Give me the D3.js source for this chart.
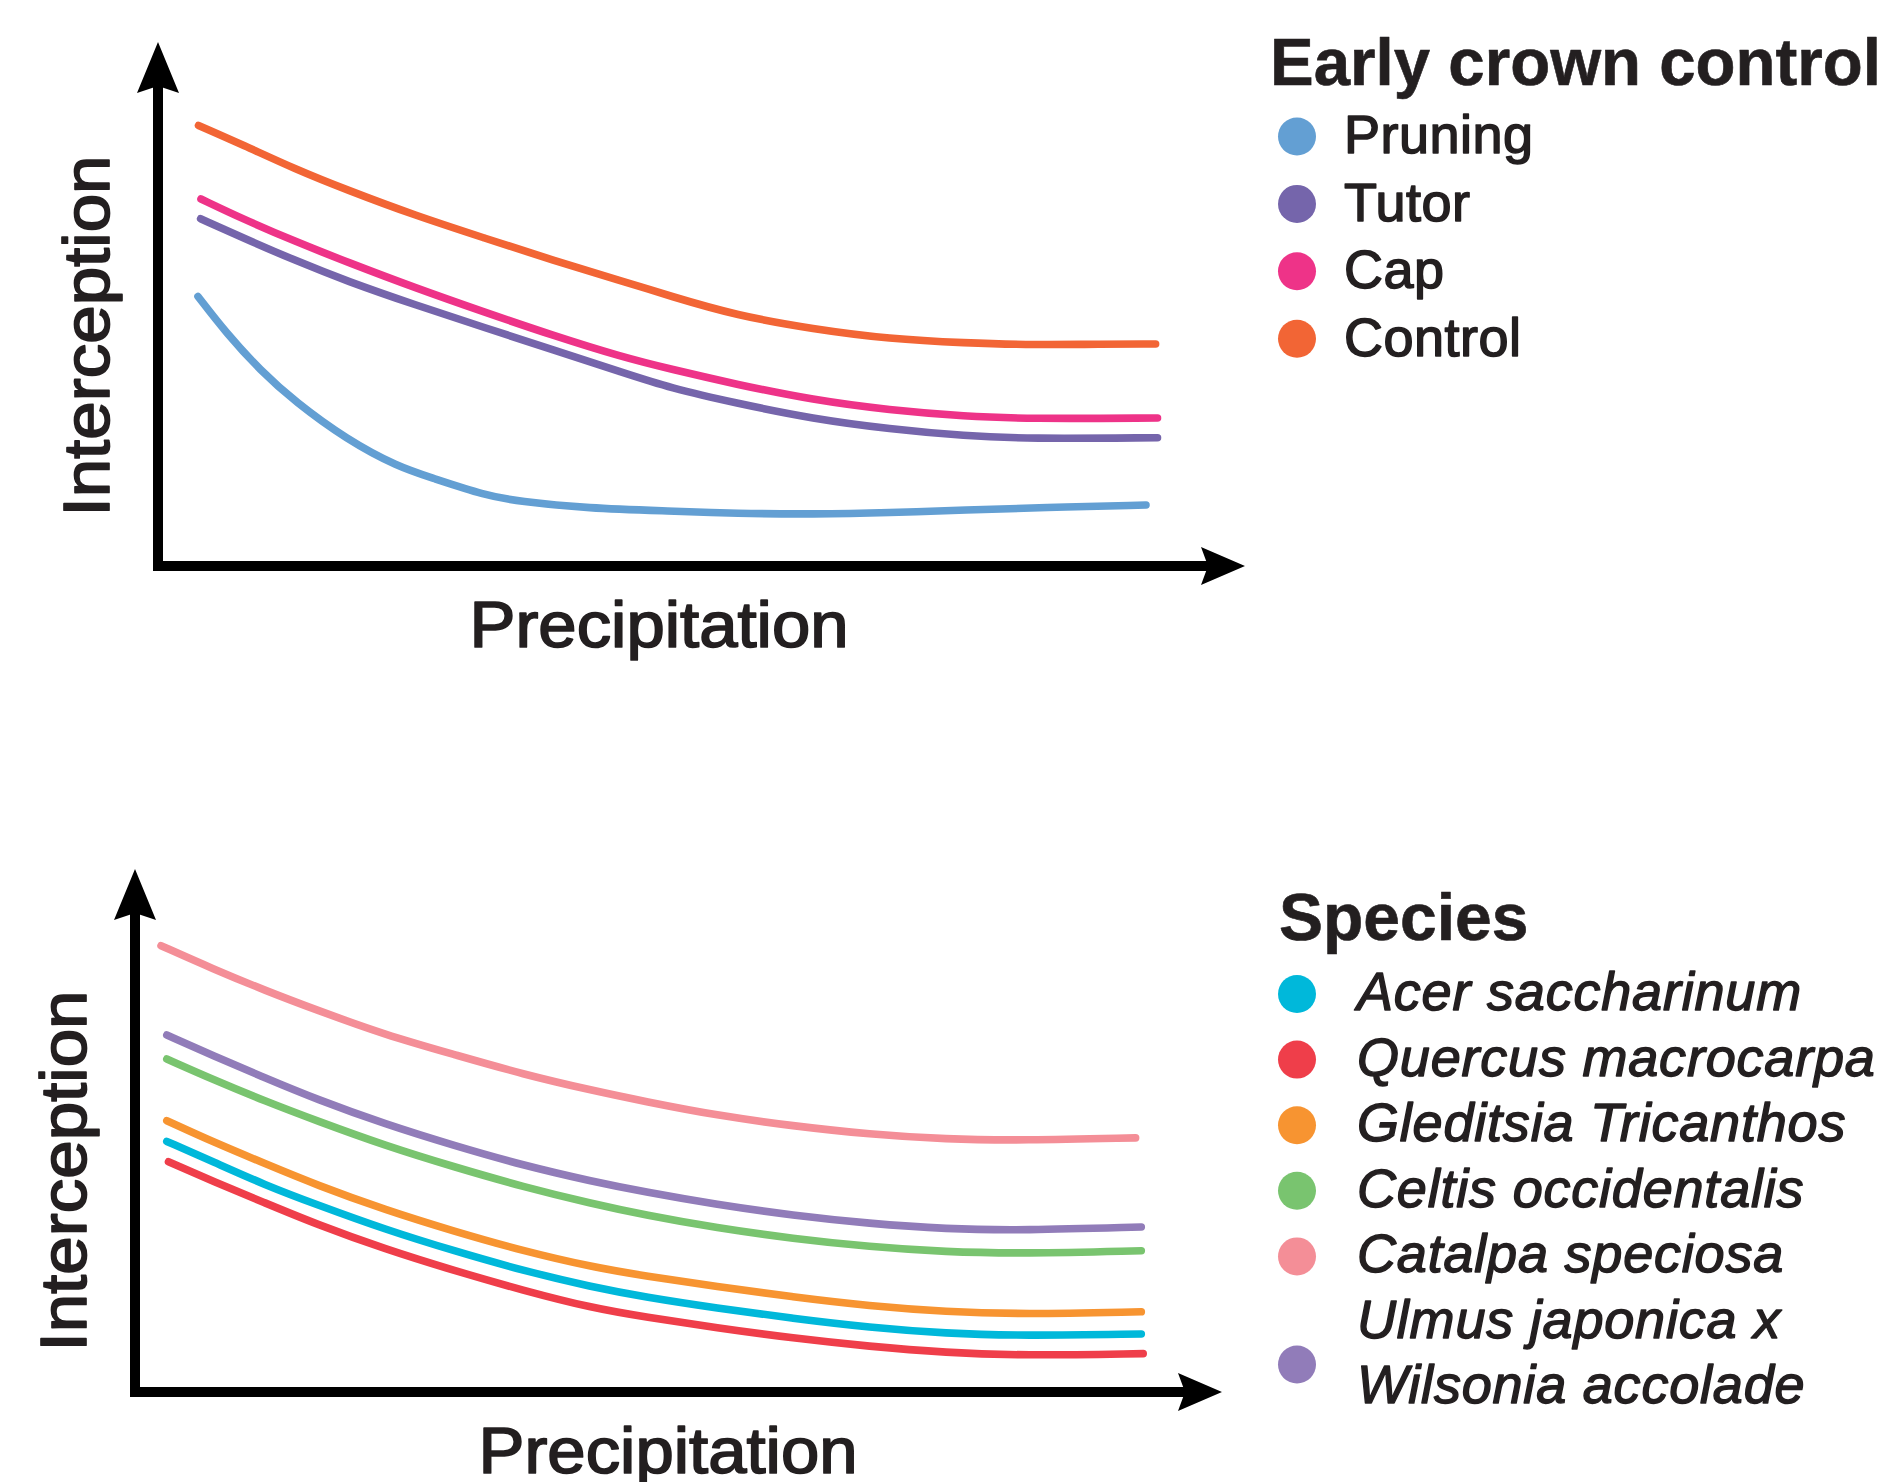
<!DOCTYPE html>
<html><head><meta charset="utf-8">
<script src="https://cdn.jsdelivr.net/npm/d3@7"></script>
<style>
body{margin:0;background:#fff;}
svg{display:block;}
text{font-family:"Liberation Sans",Arial,Helvetica,sans-serif;fill:#231f20;stroke:#231f20;paint-order:stroke;stroke-linejoin:round;}
</style>
</head><body>
<svg id="chart" width="1892" height="1482"></svg>
<script>
// ---------------- DATA ----------------
// Panel 1: Early crown control (precipitation, interception) — arbitrary units
const crownNames = ["Pruning", "Tutor", "Cap", "Control"];
const crownColors = ["#639fd3", "#7565ab", "#ee3388", "#f26535"];
const pruning = [[4.0,26.95],[6.8,23.33],[10.25,19.54],[13.7,16.44],[18.86,12.66],[24.03,9.9],[27.47,8.8],[32.64,7.08],[36.08,6.46],[42.97,5.77],[51.2,5.5],[57.85,5.25],[65.5,5.18],[73.16,5.32],[80.8,5.6],[88.47,5.84],[98.8,6.1]];
const tutor = [[4.26,34.73],[8.53,32.8],[13.7,30.56],[18.86,28.5],[25.75,26.1],[32.64,23.85],[39.52,21.6],[46.4,19.37],[51.2,17.8],[57.85,16.27],[65.5,14.72],[73.16,13.7],[80.8,13.0],[86.9,12.72],[99.95,12.83]];
const cap = [[4.3,36.7],[8.5,34.7],[13.7,32.46],[18.9,30.4],[25.75,27.8],[32.6,25.4],[39.5,23.05],[46.4,20.9],[51.2,19.7],[57.85,18.16],[65.5,16.6],[73.16,15.58],[80.8,14.96],[86.9,14.72],[99.95,14.8]];
const control = [[4.05,44.06],[8.53,42.1],[13.7,39.7],[18.86,37.62],[25.75,35.04],[32.64,32.8],[39.52,30.56],[46.4,28.5],[51.2,27.0],[57.85,25.05],[65.5,23.7],[73.16,22.7],[80.8,22.3],[86.9,22.12],[92.3,22.16],[99.76,22.2]];

// Panel 2: Species
const speciesNames = ["Acer saccharinum", "Quercus macrocarpa", "Gleditsia Tricanthos", "Celtis occidentalis", "Catalpa speciosa", "Ulmus japonica x|Wilsonia accolade"];
const speciesColors = ["#00b8da", "#ef3e4a", "#f79431", "#79c46f", "#f48e97", "#917cb9"];
const acer = [[3.18,25.06],[7.83,23.02],[13.0,20.7],[18.16,18.74],[25.05,16.24],[31.94,14.1],[38.82,12.13],[45.7,10.5],[51.0,9.5],[58.15,8.4],[65.8,7.35],[73.46,6.45],[81.1,5.85],[88.77,5.62],[100.63,5.8]];
const quercus = [[3.35,23.02],[7.83,21.06],[13.0,18.91],[18.16,16.77],[25.05,14.27],[31.94,12.13],[38.82,10.16],[45.7,8.4],[51.0,7.5],[58.15,6.42],[65.8,5.38],[73.46,4.55],[81.1,3.93],[88.77,3.64],[100.82,3.84]];
const gleditsia = [[3.18,27.13],[7.83,25.0],[13.0,22.84],[18.16,20.7],[25.05,18.2],[31.94,16.06],[38.82,14.1],[45.7,12.5],[51.0,11.6],[58.15,10.55],[65.8,9.5],[73.46,8.6],[81.1,8.03],[88.77,7.77],[100.63,8.02]];
const celtis = [[3.18,33.3],[7.83,31.24],[13.0,29.1],[18.16,27.13],[25.05,24.63],[31.94,22.5],[38.82,20.52],[45.7,18.84],[51.0,17.7],[58.15,16.41],[65.8,15.34],[73.46,14.52],[81.1,14.0],[88.77,13.84],[100.63,14.13]];
const catalpa = [[2.6,44.63],[7.83,42.3],[13.0,40.16],[18.16,38.2],[25.05,35.7],[31.94,33.74],[38.82,31.77],[45.7,30.16],[51.0,29.05],[58.15,27.66],[65.8,26.6],[73.46,25.77],[81.1,25.27],[88.77,25.16],[100.06,25.41]];
const ulmus = [[3.18,35.7],[7.83,33.63],[13.0,31.41],[18.16,29.27],[25.05,26.77],[31.94,24.63],[38.82,22.66],[45.7,21.06],[51.0,20.0],[58.15,18.74],[65.8,17.66],[73.46,16.84],[81.1,16.3],[88.77,16.16],[100.63,16.5]];

const axisLabels = {x: "Precipitation", y: "Interception"};
const legendTitles = ["Early crown control", "Species"];

// ---------------- DRAWING ----------------
const svg = d3.select("#chart");

function panel(cfg) {
  const x = d3.scaleLinear().domain([0, 100]).range([cfg.x0, cfg.x0 + 1000]);
  const y = d3.scaleLinear().domain([0, 50]).range([cfg.y0, cfg.y0 - 500]);
  const g = svg.append("g");

  // axes (no ticks) with arrowheads
  const xTip = x(cfg.xArrow), yTip = y(cfg.yArrow);
  const lenV = 51, halfV = 21, lenH = 44, halfH = 19, notch = 7;
  g.append("path")
    .attr("d", `M${x(0)},${yTip + lenV - notch}V${y(0)}H${xTip - lenH + notch}`)
    .attr("fill", "none").attr("stroke", "#000").attr("stroke-width", 10)
    .attr("stroke-linejoin", "miter");
  g.append("path")
    .attr("d", `M${x(0)},${yTip}L${x(0) + halfV},${yTip + lenV}L${x(0)},${yTip + lenV - notch}L${x(0) - halfV},${yTip + lenV}Z`)
    .attr("fill", "#000");
  g.append("path")
    .attr("d", `M${xTip},${y(0)}L${xTip - lenH},${y(0) - halfH}L${xTip - lenH + notch},${y(0)}L${xTip - lenH},${y(0) + halfH}Z`)
    .attr("fill", "#000");

  // lines
  const line = d3.line().x(d => x(d[0])).y(d => y(d[1])).curve(d3.curveBasis);
  cfg.series.forEach((s, i) => {
    g.append("path").datum(s)
      .attr("d", line)
      .attr("fill", "none")
      .attr("stroke", cfg.colors[i])
      .attr("stroke-width", 7.6)
      .attr("stroke-linecap", "round")
      .attr("stroke-linejoin", "round");
  });

  // axis titles
  g.append("text")
    .attr("x", cfg.xLabel[0]).attr("y", cfg.xLabel[1])
    .attr("text-anchor", "middle")
    .attr("font-size", 65).attr("stroke-width", 1.7)
    .attr("textLength", 379).attr("lengthAdjust", "spacingAndGlyphs")
    .text(axisLabels.x);
  g.append("text")
    .attr("transform", `translate(${cfg.yLabel[0]},${cfg.yLabel[1]}) rotate(-90)`)
    .attr("text-anchor", "middle")
    .attr("font-size", 65).attr("stroke-width", 1.7)
    .attr("textLength", 361).attr("lengthAdjust", "spacingAndGlyphs")
    .text(axisLabels.y);
}

panel({x0: 158, y0: 566, xArrow: 108.7, yArrow: 52.4,
  series: [pruning, tutor, cap, control], colors: crownColors,
  xLabel: [659, 647], yLabel: [109, 336]});
panel({x0: 135, y0: 1392, xArrow: 108.7, yArrow: 52.3,
  series: [acer, quercus, gleditsia, celtis, catalpa, ulmus], colors: speciesColors,
  xLabel: [668, 1473], yLabel: [85.5, 1171]});

// Legend 1
const l1 = svg.append("g");
l1.append("text").attr("x", 1270).attr("y", 84.5)
  .attr("font-size", 66).attr("font-weight", "bold").attr("stroke-width", 0.6)
  .attr("textLength", 611).attr("lengthAdjust", "spacingAndGlyphs")
  .text(legendTitles[0]);
crownNames.forEach((n, i) => {
  const by = 153.3 + i * 67.4;
  l1.append("circle").attr("cx", 1297).attr("cy", by - 16.8).attr("r", 19).attr("fill", crownColors[i]);
  l1.append("text").attr("x", 1344).attr("y", by).attr("font-size", 54)
    .attr("stroke-width", 1.5).attr("letter-spacing", 0.5).text(n);
});

// Legend 2
const l2 = svg.append("g");
l2.append("text").attr("x", 1279).attr("y", 940)
  .attr("font-size", 66).attr("font-weight", "bold").attr("stroke-width", 0.6)
  .text(legendTitles[1]);
speciesNames.forEach((n, i) => {
  const parts = n.split("|");
  const by = 1010 + i * 65.6;
  let cy = by - 16;
  if (parts.length > 1) cy = 1364.5;
  l2.append("circle").attr("cx", 1297).attr("cy", cy).attr("r", 19).attr("fill", speciesColors[i]);
  parts.forEach((p, j) => {
    const yy = parts.length > 1 ? 1338 + j * 65 : by;
    l2.append("text").attr("x", 1357).attr("y", yy)
      .attr("font-size", 54).attr("font-style", "italic")
      .attr("stroke-width", 1.4).attr("letter-spacing", 0.8).text(p);
  });
});
</script>
</body></html>
